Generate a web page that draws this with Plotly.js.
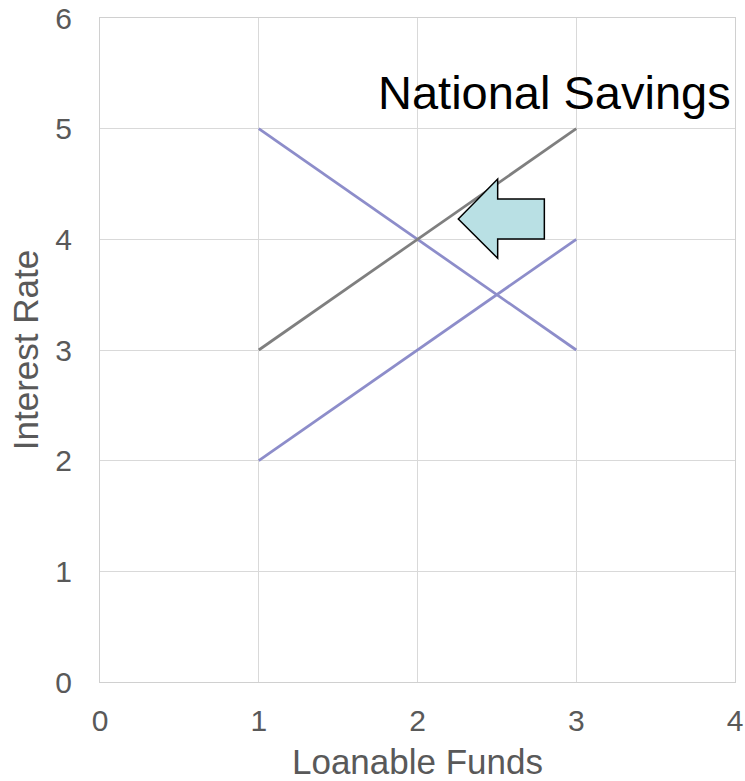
<!DOCTYPE html>
<html>
<head>
<meta charset="utf-8">
<script src="https://cdn.plot.ly/plotly-3.0.1.min.js"></script>
<style>
  html, body { margin: 0; padding: 0; background: #ffffff; }
  #chart { width: 745px; height: 781px; }
</style>
</head>
<body>
<div id="chart"></div>
<script>
// Loanable funds market: quantities and interest rates
const loanableFunds = [1, 2, 3];
const savingsOriginal = [3, 4, 5];
const investmentDemand = [5, 4, 3];
const savingsShifted = [2, 3, 4];

const xTicks = [0, 1, 2, 3, 4];
const yTicks = [0, 1, 2, 3, 4, 5, 6];

const purple = '#8d8dca';
const grey = '#7f7f7f';
const fontFamily = 'Liberation Sans, Arial, sans-serif';

const traces = [
  {
    x: loanableFunds, y: investmentDemand, type: 'scatter', mode: 'lines',
    line: { color: purple, width: 2.75 }, hoverinfo: 'skip'
  },
  {
    x: loanableFunds, y: savingsShifted, type: 'scatter', mode: 'lines',
    line: { color: purple, width: 2.75 }, hoverinfo: 'skip'
  },
  {
    x: loanableFunds, y: savingsOriginal, type: 'scatter', mode: 'lines',
    line: { color: grey, width: 2.75 }, hoverinfo: 'skip'
  }
];

const axisCommon = {
  showgrid: true,
  gridcolor: '#d9d9d9',
  gridwidth: 1,
  zeroline: false,
  showline: true,
  linecolor: '#d0d0d0',
  linewidth: 1,
  mirror: true,
  ticks: '',
  tickfont: { family: fontFamily, size: 30, color: '#595959' },
  fixedrange: true
};

const layout = {
  width: 745,
  height: 781,
  margin: { l: 100, r: 10, t: 18, b: 99 },
  paper_bgcolor: '#ffffff',
  plot_bgcolor: '#ffffff',
  showlegend: false,
  xaxis: Object.assign({}, axisCommon, {
    range: [0, 4],
    tickvals: xTicks,
    ticklabelstandoff: 12,
    title: { text: 'Loanable Funds', font: { family: fontFamily, size: 35, color: '#595959' }, standoff: 13 }
  }),
  yaxis: Object.assign({}, axisCommon, {
    range: [0, 6],
    tickvals: yTicks,
    ticklabelstandoff: 21,
    title: { text: 'Interest Rate', font: { family: fontFamily, size: 35, color: '#595959' }, standoff: 6 }
  }),
  annotations: [
    {
      x: 3.99, y: 5.33, xref: 'x', yref: 'y',
      xanchor: 'right', yanchor: 'middle',
      text: 'National Savings', showarrow: false,
      font: { family: fontFamily, size: 47, color: '#000000' }
    }
  ],
  shapes: [
    {
      // block arrow pointing left: savings shift
      type: 'path', xref: 'x', yref: 'y',
      path: 'M 2.257 4.184 L 2.505 4.545 L 2.505 4.364 L 2.799 4.364 L 2.799 4.003 L 2.505 4.003 L 2.505 3.829 Z',
      fillcolor: '#b9e0e4',
      line: { color: '#000000', width: 1.5 },
      layer: 'above'
    }
  ]
};

Plotly.newPlot('chart', traces, layout, { displayModeBar: false, staticPlot: true });
</script>
</body>
</html>
